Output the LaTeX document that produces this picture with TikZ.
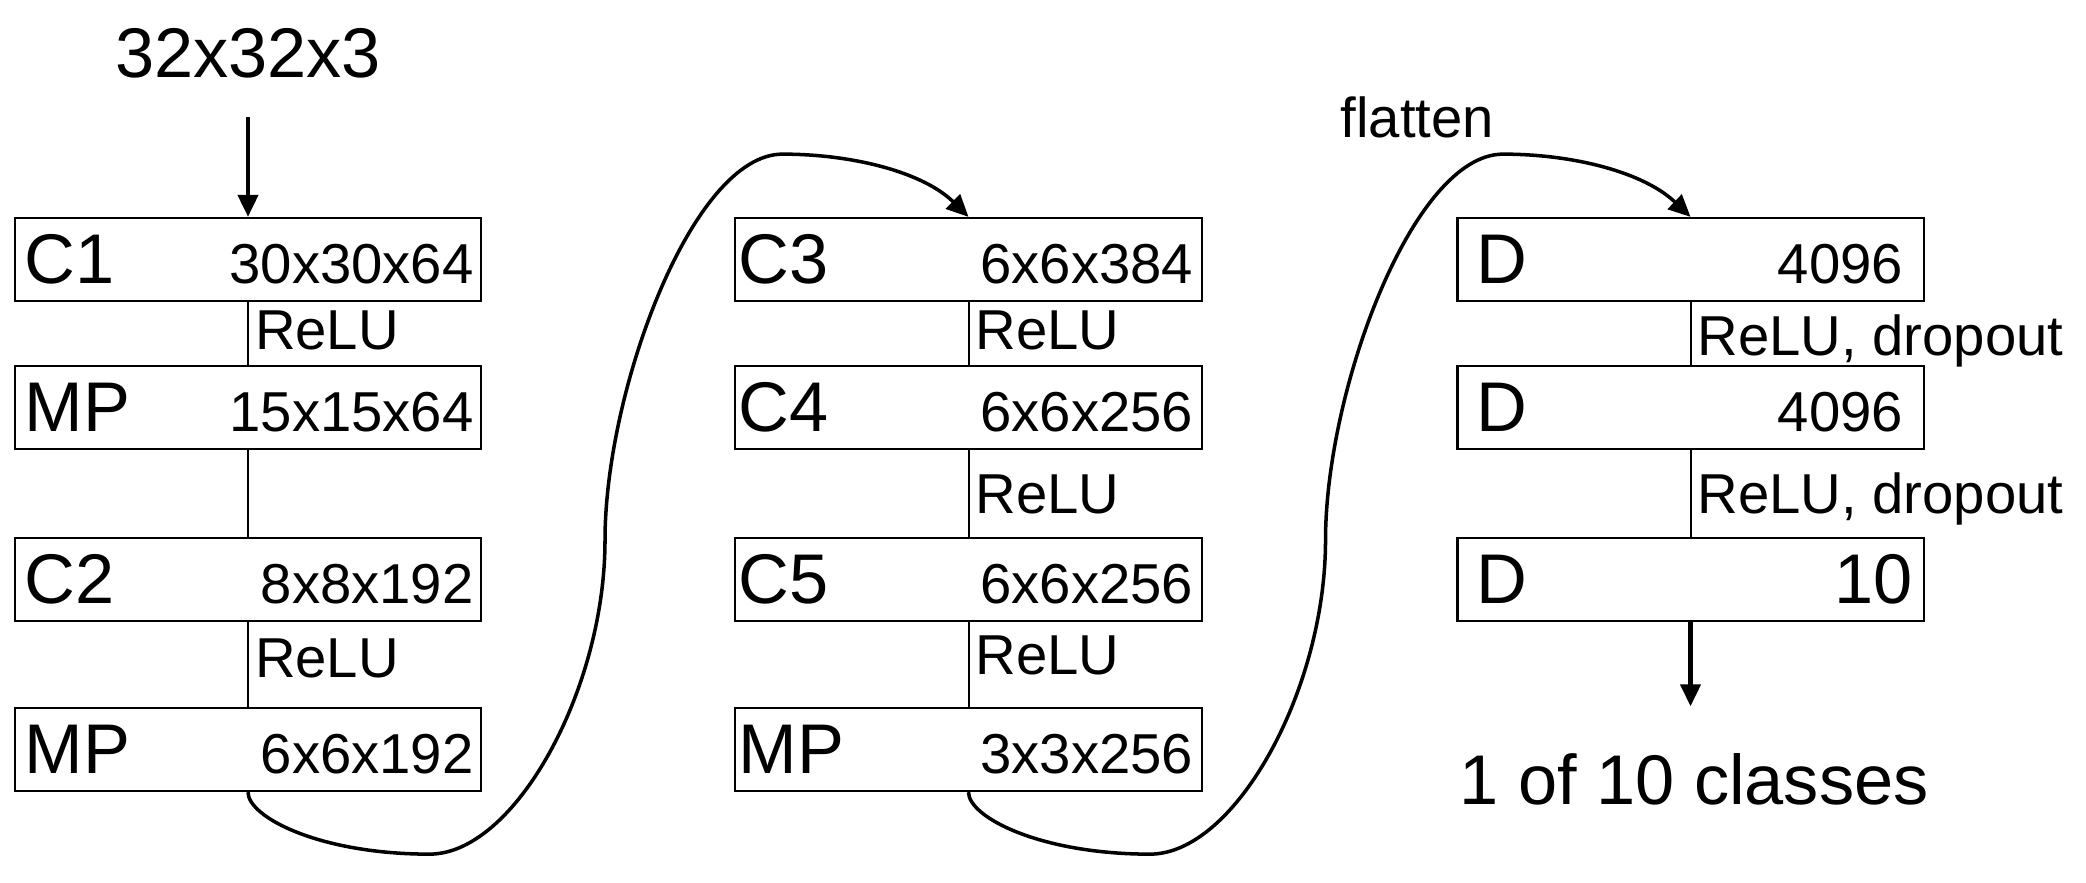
\documentclass[tikz,border=0pt]{standalone}
\usepackage{fontspec}
\setmainfont{Liberation Sans}
\usetikzlibrary{arrows.meta}

\newcommand\bigsize{\fontsize{20}{24}\selectfont}
\newcommand\smallsize{\fontsize{16}{19}\selectfont}

\begin{document}
\begin{tikzpicture}[x=0.01cm, y=-0.01cm, >={Triangle[length=0.22cm,width=0.2cm]},
  layer/.style={draw, line width=0.63pt, minimum width=4.66cm, minimum height=0.83cm, inner sep=0pt},
  kind/.style={font=\bigsize, anchor=base west, inner sep=0pt},
  dims/.style={font=\smallsize, anchor=base east, inner sep=0pt},
  act/.style={font=\smallsize, anchor=base west, inner sep=0pt, xshift=0.06cm},
  link/.style={line width=0.57pt},
  flow/.style={->, line width=1.2pt},
  jump/.style={->, line width=1pt}]
  \useasboundingbox (0,0) rectangle (2086,882);

  \foreach \n/\y/\l/\s in {c1/259.5/C1/30x30x64, mp1/407.5/MP/15x15x64, c2/579.5/C2/8x8x192, mp2/749.5/MP/6x6x192}{
    \node[layer] (\n) at (248,\y) {};
    \node[kind] at ([xshift=0.1cm, yshift=-0.24cm]\n.west) {\l};
    \node[dims] at ([xshift=-0.08cm, yshift=-0.24cm]\n.east) {\s};
  }

  \foreach \n/\y/\l/\s in {c3/259.5/C3/6x6x384, c4/407.5/C4/6x6x256, c5/579.5/C5/6x6x256, mp3/749.5/MP/3x3x256}{
    \node[layer] (\n) at (968.5,\y) {};
    \node[kind] at ([xshift=0.035cm, yshift=-0.24cm]\n.west) {\l};
    \node[dims] at ([xshift=-0.09cm, yshift=-0.24cm]\n.east) {\s};
  }

  \foreach \n/\y/\s/\off in {d1/259.5/4096/0.21, d2/407.5/4096/0.21, d3/579.5/{\bigsize 10}/0.11}{
    \node[layer] (\n) at (1690.5,\y) {};
    \node[kind] at ([xshift=0.19cm, yshift=-0.24cm]\n.west) {D};
    \node[dims] at ([xshift=-\off cm, yshift=-0.24cm]\n.east) {\s};
  }

  \draw[link] (c1) -- node[act, pos=0.75] {ReLU} (mp1);
  \draw[link] (mp1) -- (c2);
  \draw[link] (c2) -- node[act, pos=0.65] {ReLU} (mp2);
  \draw[link] (c3) -- node[act, pos=0.75] {ReLU} (c4);
  \draw[link] (c4) -- node[act, pos=0.73] {ReLU} (c5);
  \draw[link] (c5) -- node[act, pos=0.62] {ReLU} (mp3);
  \draw[link] (d1) -- node[act, pos=0.85] {ReLU, dropout} (d2);
  \draw[link] (d2) -- node[act, pos=0.73] {ReLU, dropout} (d3);

  \node[font=\bigsize, anchor=base, inner sep=0pt] (input) at (248,78) {32x32x3};
  \draw[flow, shorten <=0.38cm] (input) -- (c1);

  \node[font=\bigsize, anchor=base, inner sep=0pt] (output) at (1694,804) {1 of 10 classes};
  \draw[flow, shorten >=0.46cm] (d3) -- (d3 |- output.north);

  \node[font=\smallsize, anchor=base west, inner sep=0pt] (flatten) at (1340,138) {flatten};

  % column to column
  \foreach \a/\b in {mp2/c3, mp3/d1}
    \draw[jump, shift={(\a.south)}] (0,0) .. controls (0,25) and (71.5,62) .. (181.5,62)
      .. controls (266.5,62) and (357,-102) .. (357,-252)
      .. controls (357,-402) and (444.5,-638) .. (534.5,-638)
      .. controls (604.5,-638) and (675,-620) .. (\b.north);

\end{tikzpicture}
\end{document}
